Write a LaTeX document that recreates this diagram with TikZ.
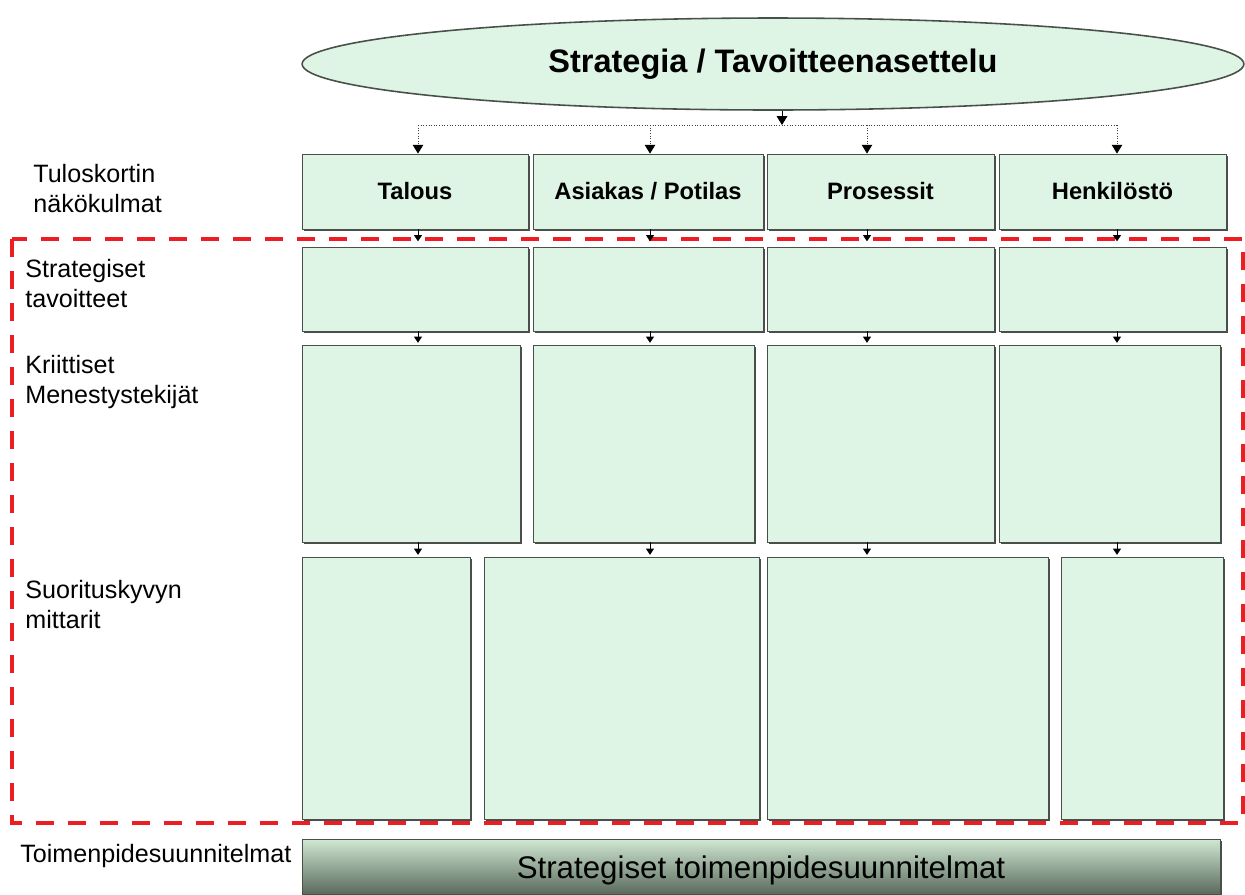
\documentclass[tikz,border=0pt]{standalone}
\usepackage{fontspec}
\setmainfont{Liberation Sans}
\usetikzlibrary{arrows.meta,fit,shadows,shapes.geometric}

\definecolor{cellgreen}{RGB}{222,244,228}
\definecolor{cellline}{RGB}{72,80,74}
\definecolor{bartop}{RGB}{208,232,210}
\definecolor{barbottom}{RGB}{90,106,92}
\definecolor{framered}{RGB}{236,30,36}

\tikzset{
  cell/.style={draw=cellline, fill=cellgreen, line width=0.5pt, inner sep=0pt,
    drop shadow={shadow xshift=1pt, shadow yshift=-1pt, fill=black!70, opacity=1}},
  headtext/.style={font=\bfseries\fontsize{13.5}{16}\selectfont, inner sep=0pt},
  bartext/.style={font=\fontsize{17.8}{21}\selectfont, inner sep=0pt, yshift=-2pt},
  rowlabel/.style={anchor=base west, align=left, inner sep=0pt,
    font=\fontsize{14.3}{17}\selectfont},
  busline/.style={draw=black!75, line width=0.5pt, densely dotted},
  downtip/.style={-{Triangle[width=6pt,length=5pt,black]}, line width=0.5pt},
  smalltip/.style={-{Triangle[width=4.5pt,length=3.5pt]}, line width=0.5pt},
}

\begin{document}
\begin{tikzpicture}[x=0.02cm,y=-0.02cm]
        \useasboundingbox (0,0) rectangle (1245,894);%

        % Drawing the strategy ellipse
        \node [ellipse, draw=cellline, fill=cellgreen, line width=0.9pt,
          minimum width=18.84cm, minimum height=1.84cm,
          font=\bfseries\fontsize{18.5}{22}\selectfont] (goal) at (773,64)
          {Strategia / Tavoitteenasettelu};%

        % Columns of the connectors
        \coordinate (c1) at (418,0);%
        \coordinate (c2) at (650,0);%
        \coordinate (c3) at (867,0);%
        \coordinate (c4) at (1117,0);%
        \coordinate (bus) at (782,125);%

        % Drawing scorecard perspectives
        \node [cell, fit={(302,154) (528,229)}, label={[headtext]center:Talous}] (talous) {};%
        \node [cell, fit={(533,154) (763,229)}, label={[headtext]center:Asiakas / Potilas}] (asiakas) {};%
        \node [cell, fit={(767,154) (994,229)}, label={[headtext]center:Prosessit}] (prosessit) {};%
        \node [cell, fit={(999,154) (1226,229)}, label={[headtext]center:Henkilöstö}] (henkilosto) {};%

        % Drawing strategic goals
        \node [cell, fit={(302,247) (528,331)}] (tavoite1) {};%
        \node [cell, fit={(533,247) (763,331)}] (tavoite2) {};%
        \node [cell, fit={(767,247) (994,331)}] (tavoite3) {};%
        \node [cell, fit={(999,247) (1226,331)}] (tavoite4) {};%

        % Drawing critical success factors
        \node [cell, fit={(302,345) (520,542)}] (tekija1) {};%
        \node [cell, fit={(533,345) (754,542)}] (tekija2) {};%
        \node [cell, fit={(767,345) (994,542)}] (tekija3) {};%
        \node [cell, fit={(999,345) (1220,542)}] (tekija4) {};%

        % Drawing performance measures
        \node [cell, fit={(302,557) (470,819)}] (mittari1) {};%
        \node [cell, fit={(484,557) (759,819)}] (mittari2) {};%
        \node [cell, fit={(767,557) (1048,819)}] (mittari3) {};%
        \node [cell, fit={(1061,557) (1223,819)}] (mittari4) {};%

        % Drawing action plans bar
        \node [cell, top color=bartop, bottom color=barbottom, fit={(302,839) (1220,894)},
          label={[bartext]center:Strategiset toimenpidesuunnitelmat}] (toimet) {};%

        % Drawing the dashed frame
        \draw [framered, line width=2pt, dash pattern=on 0.36cm off 0.28cm]
          (12,239) rectangle (1243,823);%

        % Drawing row labels
        \node [rowlabel] (l1) at (33,212) {Tuloskortin\\näkökulmat};%
        \node [rowlabel] (l2) at (25,307) {Strategiset\\tavoitteet};%
        \node [rowlabel] (l3) at (25,403) {Kriittiset\\Menestystekijät};%
        \node [rowlabel] (l4) at (25,628) {Suorituskyvyn\\mittarit};%
        \node [rowlabel] (l5) at (20,862) {Toimenpidesuunnitelmat};%

        % Drawing connectors from the ellipse
        \draw [downtip] (goal.south -| bus) -- (bus);%
        \draw [busline] (c1 |- bus) -- (c4 |- bus);%
        \draw [busline, downtip] (c1 |- bus) -- (c1 |- talous.north);%
        \draw [busline, downtip] (c2 |- bus) -- (c2 |- asiakas.north);%
        \draw [busline, downtip] (c3 |- bus) -- (c3 |- prosessit.north);%
        \draw [busline, downtip] (c4 |- bus) -- (c4 |- henkilosto.north);%

        % Drawing connectors between rows
        \draw [smalltip, shorten >=3pt] (c1 |- talous.south) -- (c1 |- tavoite1.north);%
        \draw [smalltip, shorten >=3pt] (c2 |- asiakas.south) -- (c2 |- tavoite2.north);%
        \draw [smalltip, shorten >=3pt] (c3 |- prosessit.south) -- (c3 |- tavoite3.north);%
        \draw [smalltip, shorten >=3pt] (c4 |- henkilosto.south) -- (c4 |- tavoite4.north);%
        \draw [smalltip, shorten >=1pt] (c1 |- tavoite1.south) -- (c1 |- tekija1.north);%
        \draw [smalltip, shorten >=1pt] (c2 |- tavoite2.south) -- (c2 |- tekija2.north);%
        \draw [smalltip, shorten >=1pt] (c3 |- tavoite3.south) -- (c3 |- tekija3.north);%
        \draw [smalltip, shorten >=1pt] (c4 |- tavoite4.south) -- (c4 |- tekija4.north);%
        \draw [smalltip, shorten >=1pt] (c1 |- tekija1.south) -- (c1 |- mittari1.north);%
        \draw [smalltip, shorten >=1pt] (c2 |- tekija2.south) -- (c2 |- mittari2.north);%
        \draw [smalltip, shorten >=1pt] (c3 |- tekija3.south) -- (c3 |- mittari3.north);%
        \draw [smalltip, shorten >=1pt] (c4 |- tekija4.south) -- (c4 |- mittari4.north);%
\end{tikzpicture}
\end{document}
